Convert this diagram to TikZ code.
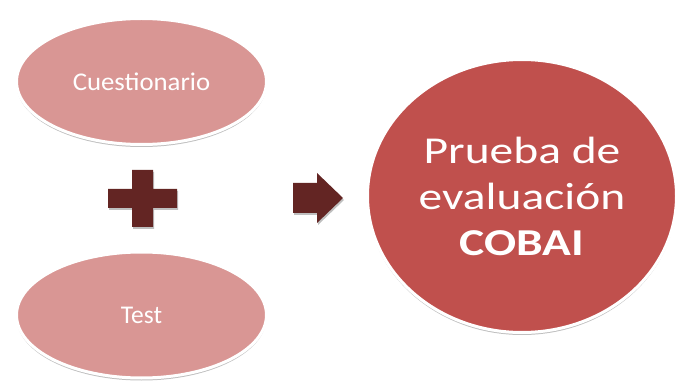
\documentclass[tikz,border=0pt]{standalone}
\usepackage{fontspec}
\setmainfont{Carlito}
\usetikzlibrary{shapes.geometric,shadows}
\definecolor{pinkfill}{HTML}{D99694}
\definecolor{redfill}{HTML}{C0504D}
\definecolor{maroon}{HTML}{632523}
\tikzset{
  bubble/.style={ellipse, draw=white, line width=3pt, inner sep=0pt,
    text=white, align=center,
    drop shadow={shadow xshift=0pt, shadow yshift=-2.5pt, opacity=0.25, fill=black}},
  smallbubble/.style={bubble, fill=pinkfill, minimum width=250pt, minimum height=126pt,
    font=\fontsize{25.5}{30}\selectfont},
  bigbubble/.style={bubble, fill=redfill, minimum width=309pt, minimum height=273pt,
    font=\fontsize{38}{46}\selectfont},
  sign/.style={fill=maroon, draw=none,
    drop shadow={shadow xshift=1pt, shadow yshift=-2pt, opacity=0.25, fill=black}}
}
\newcommand{\widetext}[1]{\scalebox{1.25}[1]{#1}}
\begin{document}
\begin{tikzpicture}[x=1pt, y=-1pt]
  \useasboundingbox (0,0) rectangle (678,385);

  % inputs
  \node[smallbubble] (cuest) at (141.5,81.5) {\scalebox{1.05}[1]{Cuestionario}};
  \node[smallbubble] (test) at (141.5,315) {Test};

  % plus sign between the inputs
  \path[sign] (132,170) -- (153,170) -- (153,189) -- (177,189) -- (177,208)
    -- (153,208) -- (153,227) -- (132,227) -- (132,208) -- (108,208)
    -- (108,189) -- (132,189) -- cycle;

  % result arrow
  \path[sign] (293,183) -- (317,183) -- (317,173) -- (343,198) -- (317,223)
    -- (317,213) -- (293,213) -- cycle;

  % result
  \node[bigbubble] (cobai) at (522,196)
    {\widetext{Prueba de}\\\widetext{evaluación}\\\widetext{\textbf{COBAI}}};
\end{tikzpicture}
\end{document}
